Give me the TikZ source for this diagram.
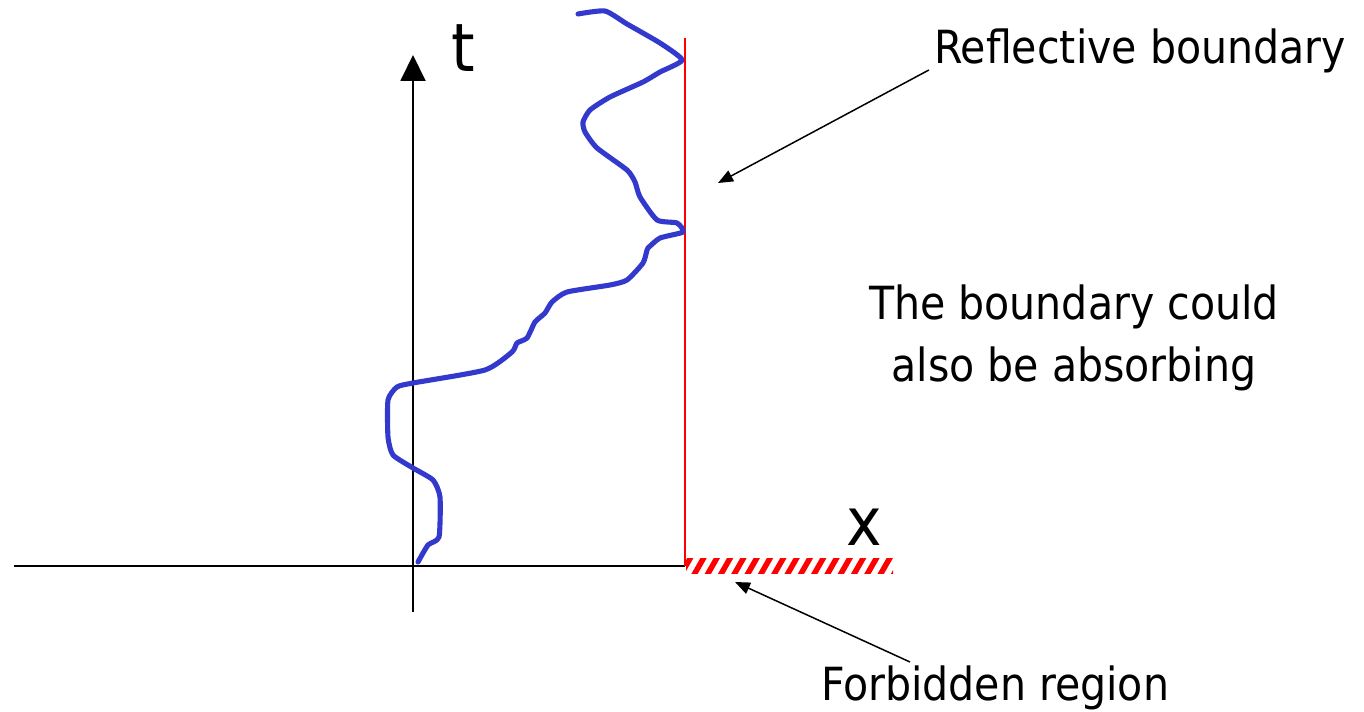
\documentclass[tikz,border=0pt]{standalone}
\usepackage{fontspec}
\setmainfont{DejaVu Sans Condensed}
\usepackage{tikz}
\usetikzlibrary{arrows.meta,positioning,calc}
\definecolor{walkblue}{HTML}{3339CC}

\begin{document}
\begin{tikzpicture}[x=0.02cm,y=-0.02cm,
    axisline/.style={line width=1.1pt,black},
    pointer/.style={line width=0.85pt,-{Triangle[length=0.3cm,width=0.24cm]}},
    lbl/.style={inner sep=0pt,anchor=base,font=\fontsize{26}{35}\selectfont},
    biglbl/.style={inner sep=0pt,anchor=base,font=\fontsize{38}{44}\selectfont}]
    \useasboundingbox (0,0) rectangle (1364,712);
    % axes
    \coordinate (o) at (413,566);
    \coordinate (xl) at (14,566);
    \coordinate (b0) at (685,566);
    \coordinate (tlow) at (413,612);
    \coordinate (ttop) at (413,55);
    \draw[axisline] (xl) -- (b0);
    \draw[axisline,-{Triangle[length=0.52cm,width=0.5cm]}] (tlow) -- (ttop);
    \node[biglbl] (tlab) at (463,72) {t};
    \node[biglbl] (xlab) at (864,545) {x};
    % boundary
    \coordinate (b1) at (685,38);
    \draw[red,line width=1.1pt] (b0) -- (b1);
    \begin{scope}
      \clip (686,558) rectangle (893,573);
      \foreach \i in {0,...,17}
        \draw[red,line width=0.11cm] (680+13.3*\i,576) -- (692+13.3*\i,555);
    \end{scope}
    % random walk
    \draw[walkblue,line width=2.9pt,line join=round,line cap=round]
      plot[smooth,tension=0.35] coordinates {
        (418,562) (428,545) (439,537) (440,497) (433,480) (413,468) (393,455)
        (388,437) (388,400) (397,387) (413,383) (485,370) (512,352) (517,343)
        (527,338) (535,322) (545,313) (552,302) (567,292) (610,285) (627,280)
        (643,263) (647,250) (648,248) (660,238) (683,232) (677,223) (657,220)
        (640,197) (635,182) (627,170) (597,148) (585,132) (583,122) (590,110)
        (610,97) (643,82) (660,72) (682,60) (660,43) (627,24) (605,11) (578,14)};
    % labels
    \node[lbl] (refl) at (1140,64) {Reflective boundary};
    \node[lbl,align=center] (note) at (1074,381) {The boundary could\\also be absorbing};
    \node[lbl] (forb) at (995,700) {Forbidden region};
    \coordinate (reflTip) at (718,183);
    \coordinate (forbTip) at (735,582);
    \draw[pointer] ($(refl.base west)+(-5,6)$) -- (reflTip);
    \draw[pointer] ($(forb.base)+(-85,-38)$) -- (forbTip);
\end{tikzpicture}
\end{document}
